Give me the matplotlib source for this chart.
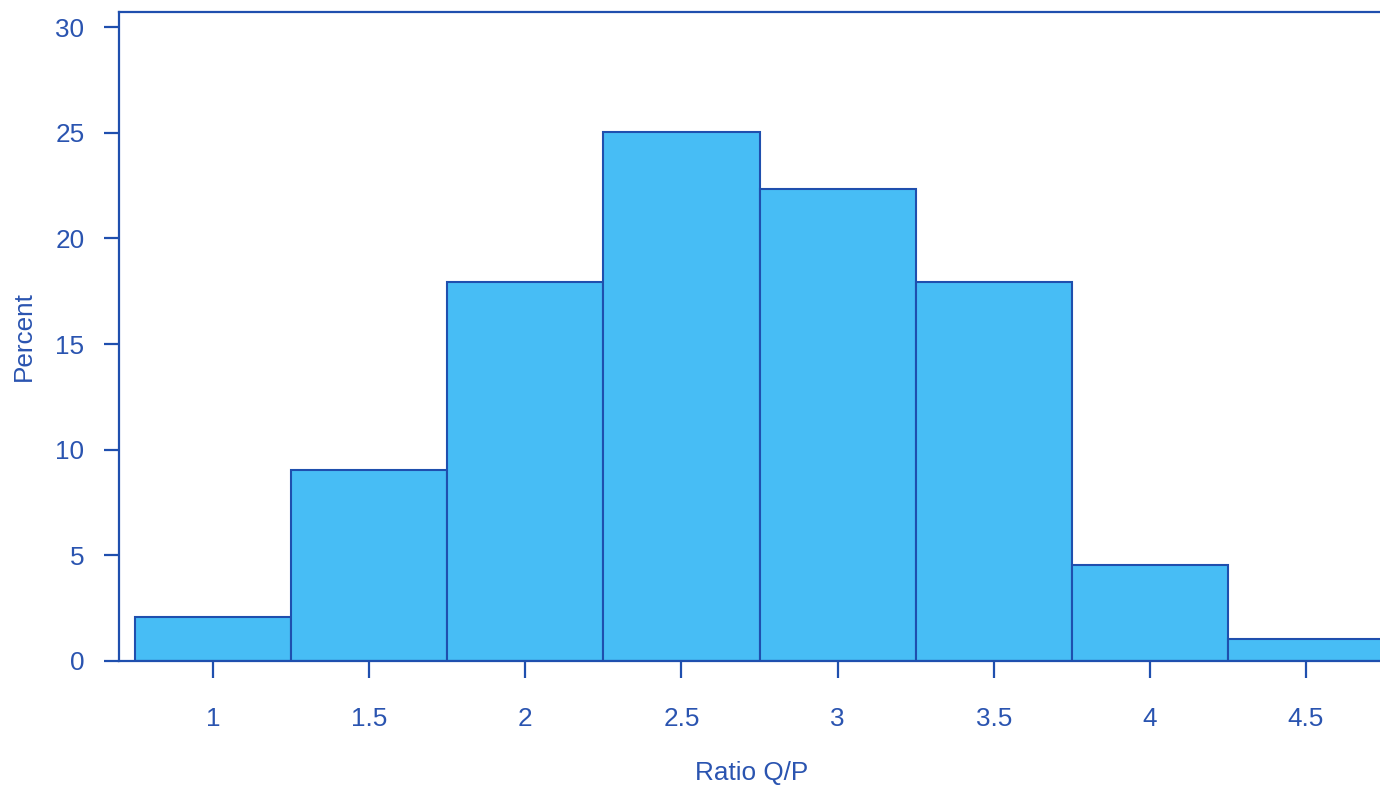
import matplotlib
matplotlib.use("Agg")
import matplotlib.pyplot as plt

bin_centers = [1.0, 1.5, 2.0, 2.5, 3.0, 3.5, 4.0, 4.5]
percent = [2.1, 9.02, 17.92, 25.05, 22.35, 17.92, 4.56, 1.04]
xticks = [1, 1.5, 2, 2.5, 3, 3.5, 4, 4.5]
xtick_labels = ["1", "1.5", "2", "2.5", "3", "3.5", "4", "4.5"]
yticks = [0, 5, 10, 15, 20, 25, 30]
ytick_labels = ["0", "5", "10", "15", "20", "25", "30"]

TXT = "#2a54b0"
EDGE = "#1f4fae"
FILL = "#47bdf5"

plt.rcParams['font.family'] = ['Liberation Sans', 'DejaVu Sans']

fig = plt.figure(figsize=(13.8, 7.85), dpi=100)
ax = fig.add_axes([118.5/1380, 124/785, 1265.6/1380, 649/785])

ax.bar(bin_centers, percent, width=0.5, color=FILL, edgecolor=EDGE, linewidth=1.5)

ax.set_xlim(0.6974, 4.75)
ax.set_ylim(0, 30.71)
ax.set_xticks(xticks)
ax.set_xticklabels(xtick_labels)
ax.set_yticks(yticks)
ax.set_yticklabels(ytick_labels)

for s in ["left", "top", "bottom"]:
    ax.spines[s].set_color(EDGE)
    ax.spines[s].set_linewidth(1.6)
ax.spines["right"].set_visible(False)

ax.tick_params(axis="x", colors=EDGE, labelcolor=TXT, length=12, width=1.6,
               pad=21, labelsize=18.8)
ax.tick_params(axis="y", colors=EDGE, labelcolor=TXT, length=10.5, width=1.6,
               pad=14, labelsize=18.8)

ax.set_xlabel("Ratio Q/P", color=TXT, fontsize=18.8, labelpad=22)
ax.set_ylabel("Percent", color=TXT, fontsize=18.8, labelpad=14)

fig.savefig("out.png", dpi=100)
